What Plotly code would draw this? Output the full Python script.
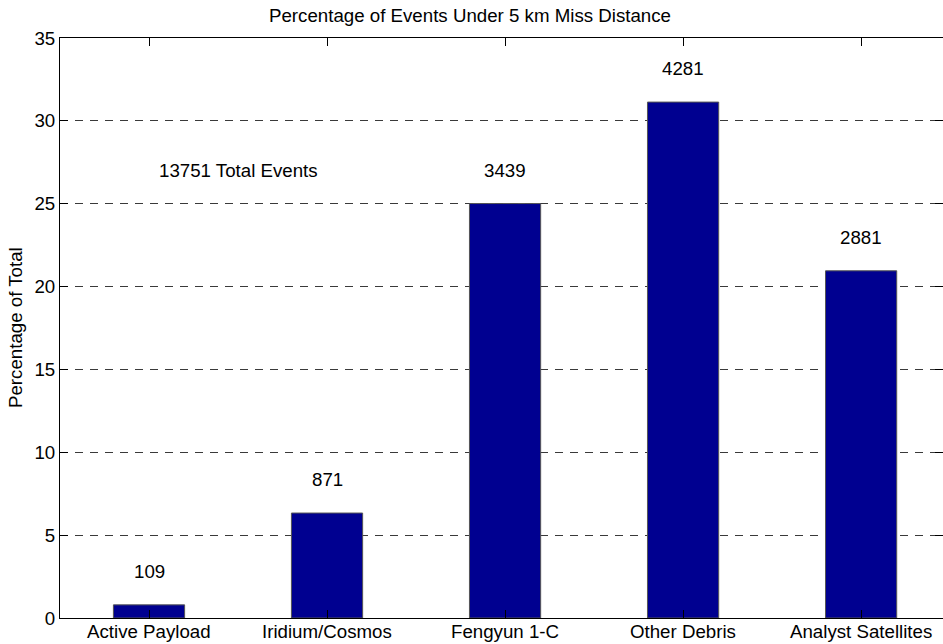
import plotly.graph_objects as go

categories = ["Active Payload", "Iridium/Cosmos", "Fengyun 1-C", "Other Debris", "Analyst Satellites"]
event_counts = [109, 871, 3439, 4281, 2881]
total_events = 13751
y_ticks = [0, 5, 10, 15, 20, 25, 30, 35]

percentages = [c / total_events * 100 for c in event_counts]
positions = list(range(1, len(categories) + 1))

FONT = "Liberation Sans, Arial, sans-serif"
FS = 18.7
TXT = dict(family=FONT, size=FS, color="black")

fig = go.Figure()
fig.add_trace(go.Bar(
    x=positions,
    y=percentages,
    width=0.4,
    marker=dict(color="#000090", line=dict(color="#555555", width=1)),
    showlegend=False,
    hoverinfo="skip",
))

annotations = []
# count labels above each bar
for x, pct, cnt in zip(positions, percentages, event_counts):
    annotations.append(dict(
        x=x, y=pct + 2, xref="x", yref="y", text=str(cnt), showarrow=False,
        xanchor="center", yanchor="middle", font=TXT,
    ))
annotations.append(dict(
    x=1.5, y=27, xref="x", yref="y", text=f"{total_events} Total Events", showarrow=False,
    xanchor="center", yanchor="middle", font=TXT,
))
# category labels under the axis
for x, name in zip(positions, categories):
    annotations.append(dict(
        x=x, y=0, xref="x", yref="y", text=name, showarrow=False,
        xanchor="center", yanchor="middle", yshift=-13, font=TXT,
    ))
annotations.append(dict(
    x=0, y=0.5, xref="paper", yref="paper", text="Percentage of Total", showarrow=False,
    textangle=-90, xanchor="center", yanchor="middle", xshift=-45, font=TXT,
))

fig.update_layout(
    width=943, height=644,
    margin=dict(l=60, r=0, t=38, b=26),
    paper_bgcolor="white", plot_bgcolor="white",
    font=TXT,
    title=dict(text="Percentage of Events Under 5 km Miss Distance", x=470 / 943, xref="container",
               xanchor="center", y=1 - 15 / 644, yref="container", yanchor="middle", font=TXT),
    annotations=annotations,
    xaxis=dict(
        range=[0.5, 5.46], tickmode="array", tickvals=positions, showticklabels=False,
        ticks="inside", ticklen=8, tickcolor="black", showline=True, linecolor="black",
        linewidth=1, mirror="ticks", showgrid=False, zeroline=False,
    ),
    yaxis=dict(
        range=[0, 35], tickmode="array", tickvals=y_ticks,
        ticks="inside", ticklen=8, tickcolor="black", showline=True, linecolor="black",
        linewidth=1, mirror="ticks", showgrid=True, gridcolor="#3a3a3a", griddash="8px,7px",
        gridwidth=1, zeroline=False, tickfont=TXT,
    ),
)

fig.write_html("out.html")
